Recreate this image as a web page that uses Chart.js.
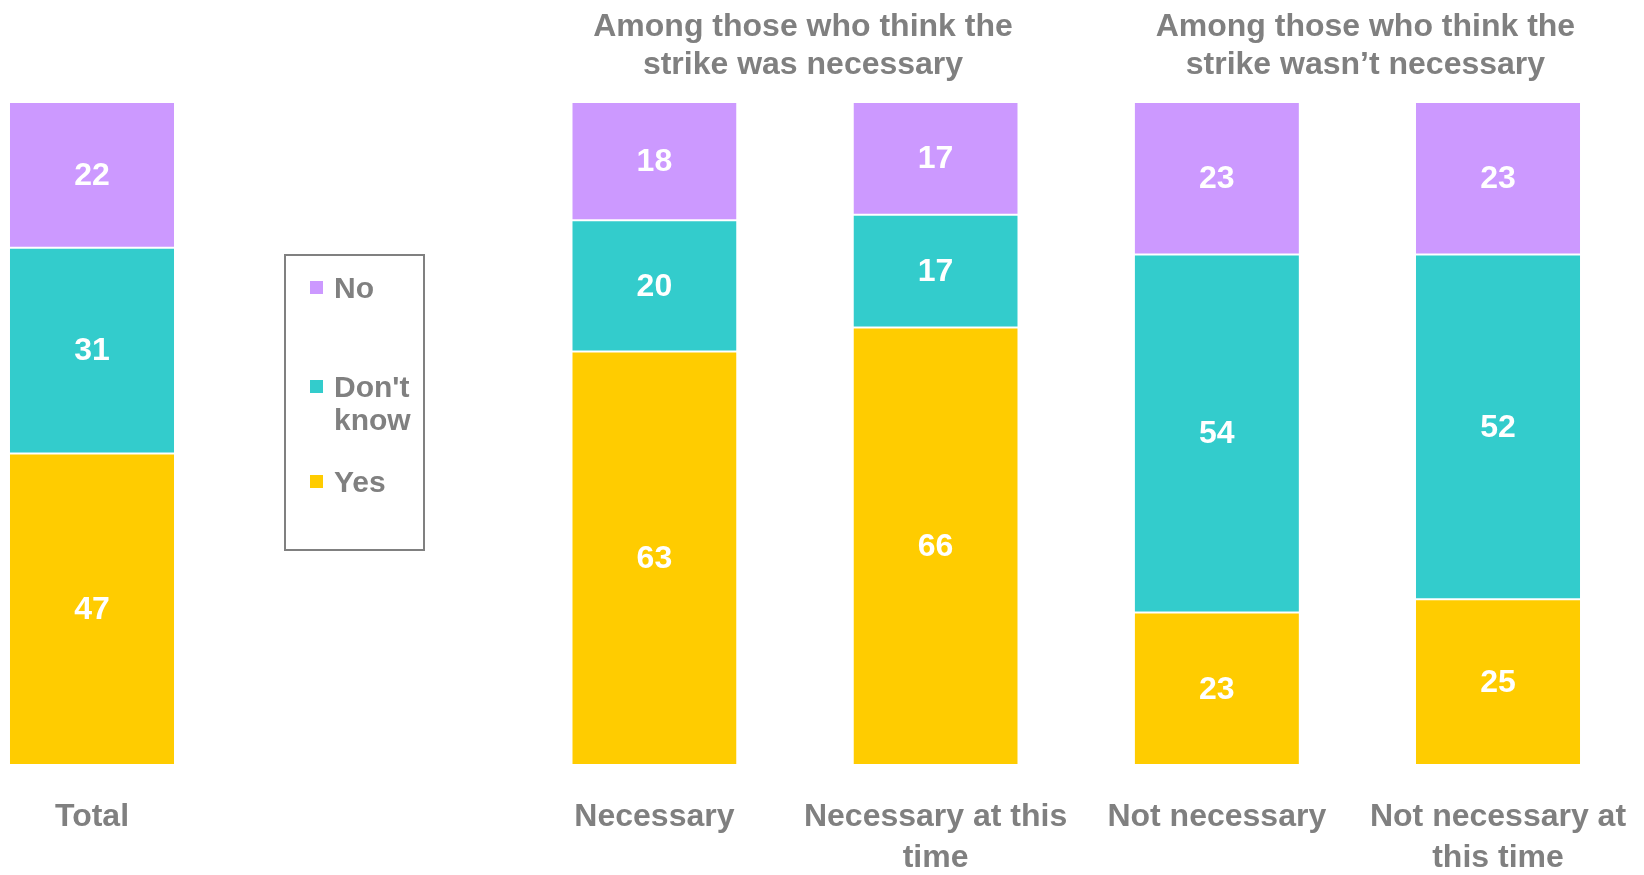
<!DOCTYPE html>
<html>
<head>
<meta charset="utf-8">
<script src="https://cdn.jsdelivr.net/npm/chart.js@4.4.1/dist/chart.umd.min.js"></script>
<style>
  body { margin: 0; background: #fff; }
  #wrap { position: relative; width: 1644px; height: 875px; }
  #legend { position: absolute; left: 284px; top: 254px; width: 137px; height: 293px;
            border: 2px solid #808080; font: bold 30px "Liberation Sans", Arial, sans-serif; color: #808080; }
  .item { position: absolute; left: 24px; display: flex; align-items: flex-start; line-height: 33px; }
  .box { width: 13px; height: 13px; margin-top: 10px; margin-right: 11px; flex: none; }
</style>
</head>
<body>
<div id="wrap">
  <canvas id="strikeChart"></canvas>
  <div id="legend"></div>
</div>
<script>
const categories = ['Total', '', 'Necessary', ['Necessary at this', 'time'], 'Not necessary', ['Not necessary at', 'this time']];
const yesValues = [47, null, 63, 66, 23, 25];
const dontKnowValues = [31, null, 20, 17, 54, 52];
const noValues = [22, null, 18, 17, 23, 23];
const groupTitles = [
  ['Among those who think the', 'strike was necessary'],
  ['Among those who think the', 'strike wasn\u2019t necessary']
];

const FONT = '"Liberation Sans", Arial, sans-serif';
const GREY = '#808080';

// bars are drawn as 100% stacks, labels keep the raw numbers
const totals = categories.map((c, i) => (yesValues[i] || 0) + (dontKnowValues[i] || 0) + (noValues[i] || 0));
const share = arr => arr.map((v, i) => v == null ? null : v / totals[i] * 100);

const makeSet = (label, values, color) => ({
  label: label,
  data: share(values),
  raw: values,
  backgroundColor: color,
  borderColor: '#ffffff',
  borderWidth: { top: 1, bottom: 1, left: 0, right: 0 },
  borderSkipped: false,
  categoryPercentage: 1,
  barPercentage: 0.584,
  clip: false
});

const series = [
  makeSet('Yes', yesValues, '#FFCC00'),
  makeSet("Don't know", dontKnowValues, '#33CCCC'),
  makeSet('No', noValues, '#CC99FF')
];

// legend box (top to bottom: No, Don't know, Yes)
const legendTops = [15, 114, 209];
const legendEl = document.getElementById('legend');
series.slice().reverse().forEach((s, i) => {
  const item = document.createElement('div');
  item.className = 'item';
  item.style.top = legendTops[i] + 'px';
  const text = s.label === "Don't know" ? "Don't<br>know" : s.label;
  item.innerHTML = `<div class="box" style="background:${s.backgroundColor}"></div><div>${text}</div>`;
  legendEl.appendChild(item);
});

const valueLabels = {
  id: 'valueLabels',
  afterDatasetsDraw(chart) {
    const ctx = chart.ctx;
    ctx.save();
    ctx.fillStyle = '#ffffff';
    ctx.font = 'bold 32px ' + FONT;
    ctx.textAlign = 'center';
    ctx.textBaseline = 'middle';
    chart.data.datasets.forEach((ds, i) => {
      chart.getDatasetMeta(i).data.forEach((bar, j) => {
        const v = ds.raw[j];
        if (v == null) return;
        const p = bar.getProps(['x', 'y', 'base'], true);
        ctx.fillText(String(v), p.x, (p.y + p.base) / 2 + 1);
      });
    });
    ctx.restore();
  }
};

const groupHeaders = {
  id: 'groupHeaders',
  afterDraw(chart) {
    const ctx = chart.ctx;
    const xs = chart.scales.x;
    ctx.save();
    ctx.fillStyle = GREY;
    ctx.font = 'bold 32px ' + FONT;
    ctx.textAlign = 'center';
    ctx.textBaseline = 'middle';
    groupTitles.forEach((lines, g) => {
      const cx = (xs.getPixelForValue(2 + 2 * g) + xs.getPixelForValue(3 + 2 * g)) / 2 + 8;
      lines.forEach((line, k) => ctx.fillText(line, cx, 27 + k * 38));
    });
    ctx.restore();
  }
};

const ctx = document.getElementById('strikeChart').getContext('2d');
const strikeChart = new Chart(ctx, {
  type: 'bar',
  data: { labels: categories, datasets: series },
  options: {
    responsive: true,
    maintainAspectRatio: false,
    animation: false,
    layout: { padding: { left: 92, right: 146, top: 102, bottom: 0 } },
    plugins: { legend: { display: false }, tooltip: { enabled: false } },
    scales: {
      x: {
        stacked: true,
        offset: false,
        grid: { display: false, drawTicks: false },
        border: { display: false },
        ticks: {
          color: GREY,
          font: { family: FONT, size: 32, weight: 'bold', lineHeight: 1.3 },
          padding: 31,
          maxRotation: 0,
          autoSkip: false
        },
        afterFit(scale) {
          scale.height = 110;
          scale.paddingLeft = 0;
          scale.paddingRight = 0;
        }
      },
      y: { stacked: true, display: false, min: 0, max: 100 }
    }
  },
  plugins: [valueLabels, groupHeaders]
});
</script>
</body>
</html>
